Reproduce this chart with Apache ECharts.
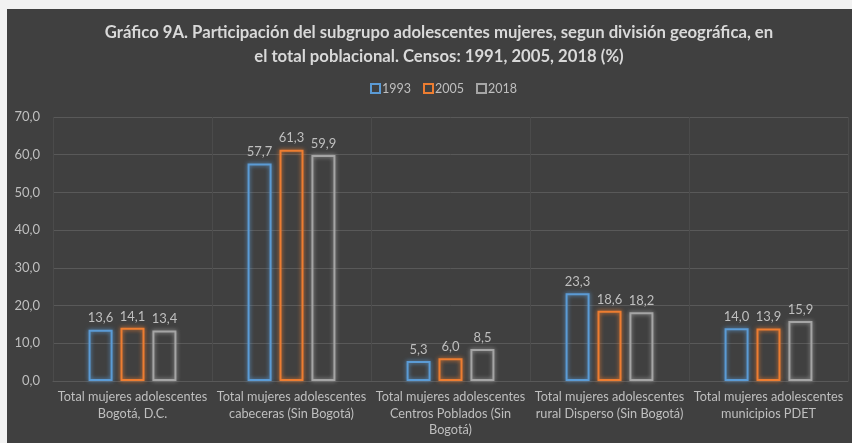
<!DOCTYPE html>
<html>
<head>
<meta charset="utf-8">
<script src="https://cdn.jsdelivr.net/npm/echarts@6/dist/echarts.min.js"></script>
<style>
  html, body { margin: 0; padding: 0; background: #f2f2f2; }
  #chart { position: absolute; left: 7px; top: 9px; width: 845px; height: 434px; background: #404040; }
</style>
</head>
<body>
<div id="chart"></div>
<script>
// categorias y valores
var categorias = [
  'Total mujeres adolescentes\nBogotá, D.C.',
  'Total mujeres adolescentes\ncabeceras (Sin Bogotá)',
  'Total mujeres adolescentes\nCentros Poblados (Sin\nBogotá)',
  'Total mujeres adolescentes\nrural Disperso (Sin Bogotá)',
  'Total mujeres adolescentes\nmunicipios PDET'
];
var anios = ['1993', '2005', '2018'];
var datos1993 = [13.6, 57.7, 5.3, 23.3, 14.0];
var datos2005 = [14.1, 61.3, 6.0, 18.6, 13.9];
var datos2018 = [13.4, 59.9, 8.5, 18.2, 15.9];
var colores = ['#5B9BD5', '#ED7D31', '#A5A5A5'];

var fuente = 'Lato';
var coma = function (v) { return v.toFixed(1).replace('.', ','); };

function serie(nombre, datos, color) {
  return {
    name: nombre,
    type: 'bar',
    barWidth: 24,
    barGap: '33%',
    data: datos,
    itemStyle: {
      color: 'rgba(0,0,0,0)',
      borderColor: color,
      borderWidth: 2,
      shadowColor: color,
      shadowBlur: 4
    },
    label: {
      show: true,
      position: 'top',
      distance: 5,
      color: '#bfbfbf',
      fontFamily: fuente,
      fontSize: 13,
      formatter: function (p) { return coma(p.value); }
    }
  };
}

var chart = echarts.init(document.getElementById('chart'));
var option = {
  backgroundColor: '#404040',
  animation: false,
  title: {
    text: 'Gráfico 9A. Participación del subgrupo adolescentes mujeres, segun división geográfica, en\nel total poblacional. Censos: 1991, 2005, 2018 (%)',
    left: 427,
    textAlign: 'center',
    top: 7,
    textStyle: {
      color: '#d9d9d9',
      fontFamily: fuente,
      fontWeight: 'bold',
      fontSize: 16.7,
      lineHeight: 24
    }
  },
  legend: {
    data: anios,
    left: 358,
    top: 68,
    itemWidth: 9,
    itemHeight: 9,
    itemGap: 12,
    icon: 'rect',
    textStyle: { color: '#bfbfbf', fontFamily: fuente, fontSize: 12.5, padding: [0, 0, 0, -3] }
  },
  grid: { left: 46, right: 4, top: 108, bottom: 62 },
  xAxis: {
    type: 'category',
    data: categorias,
    axisLine: { show: true, lineStyle: { color: '#595959' } },
    axisTick: { show: false },
    splitLine: { show: true, lineStyle: { color: '#4b4b4b' } },
    axisLabel: {
      color: '#bfbfbf',
      fontFamily: fuente,
      fontSize: 12.7,
      lineHeight: 16.5,
      margin: 8,
      interval: 0
    }
  },
  yAxis: {
    type: 'value',
    min: 0,
    max: 70,
    interval: 10,
    axisLine: { show: false },
    axisTick: { show: false },
    splitLine: { lineStyle: { color: '#595959' } },
    axisLabel: {
      color: '#bfbfbf',
      fontFamily: fuente,
      fontSize: 13,
      margin: 13,
      formatter: function (v) { return coma(v); }
    }
  },
  series: [
    serie(anios[0], datos1993, colores[0]),
    serie(anios[1], datos2005, colores[1]),
    serie(anios[2], datos2018, colores[2])
  ]
};
chart.setOption(option);
</script>
</body>
</html>
